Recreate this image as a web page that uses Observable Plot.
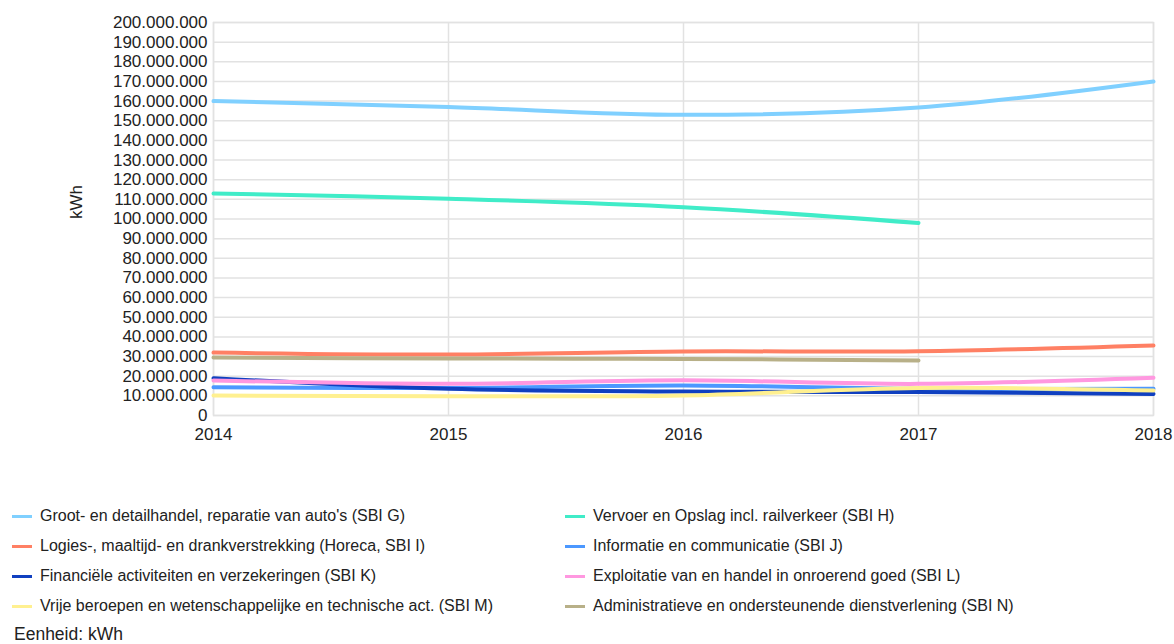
<!DOCTYPE html>
<html>
<head>
<meta charset="utf-8">
<script src="https://cdn.jsdelivr.net/npm/d3@7"></script>
<script src="https://cdn.jsdelivr.net/npm/@observablehq/plot@0.6"></script>
<style>
  html, body { margin: 0; padding: 0; background: #fff; }
  body { width: 1174px; height: 644px; position: relative; font-family: "Liberation Sans", Arial, sans-serif; color: #222; overflow: hidden; }
  #chart { position: absolute; left: 0; top: 0; }
  #legend { position: absolute; left: 12px; top: 506px; display: grid; grid-template-columns: 553px 560px; row-gap: 10px; font-size: 16px; }
  .item { display: flex; align-items: center; height: 20px; white-space: nowrap; }
  .sw { width: 20px; height: 3px; margin-right: 8px; flex: none; }
  #unit { position: absolute; left: 14px; top: 624px; font-size: 17.5px; }
</style>
</head>
<body>
<div id="chart"></div>
<div id="legend"></div>
<div id="unit">Eenheid: kWh</div>
<script>
const years = [2014, 2015, 2016, 2017, 2018];
const seriesNames = [
  "Groot- en detailhandel, reparatie van auto's (SBI G)",
  "Vervoer en Opslag incl. railverkeer (SBI H)",
  "Logies-, maaltijd- en drankverstrekking (Horeca, SBI I)",
  "Informatie en communicatie (SBI J)",
  "Financiële activiteiten en verzekeringen (SBI K)",
  "Exploitatie van en handel in onroerend goed (SBI L)",
  "Vrije beroepen en wetenschappelijke en technische act. (SBI M)",
  "Administratieve en ondersteunende dienstverlening (SBI N)"
];
const colors = ["#80d0ff", "#40ecc8", "#ff8064", "#4c98ff", "#1040c0", "#ff98e0", "#fff090", "#b8b088"];
const valuesG = [160000000, 157000000, 153000000, 156700000, 170000000];
const valuesH = [113000000, 110300000, 106000000, 98000000, null];
const valuesI = [32000000, 31000000, 32600000, 32700000, 35600000];
const valuesJ = [14400000, 14000000, 15300000, 13600000, 13600000];
const valuesK = [19000000, 13600000, 12200000, 11900000, 11000000];
const valuesL = [17800000, 16100000, 17900000, 16100000, 19200000];
const valuesM = [10200000, 9800000, 10200000, 14000000, 12700000];
const valuesN = [29500000, 29000000, 28800000, 28000000, null];
const allValues = [valuesG, valuesH, valuesI, valuesJ, valuesK, valuesL, valuesM, valuesN];
const yTicks = d3.range(0, 200000001, 10000000);

const data = [];
allValues.forEach((vals, i) => {
  vals.forEach((v, j) => {
    if (v != null) data.push({ series: seriesNames[i], year: years[j], value: v });
  });
});

const nl = d3.formatLocale({ decimal: ",", thousands: ".", grouping: [3], currency: ["", ""] });
const fmt = nl.format(",");

const chart = Plot.plot({
  width: 1174,
  height: 450,
  marginLeft: 213,
  marginRight: 21,
  marginTop: 22,
  marginBottom: 35,
  style: { fontFamily: "Liberation Sans, Arial, sans-serif", fontSize: "17px", color: "#222", background: "#fff" },
  x: { domain: [2014, 2018], ticks: years, tickFormat: d => String(d), tickSize: 0, tickPadding: 12, label: null },
  y: { domain: [0, 200000000], ticks: yTicks, tickFormat: fmt, tickSize: 0, tickPadding: 6, label: null },
  color: { domain: seriesNames, range: colors },
  marks: [
    Plot.gridY(yTicks, { stroke: "#e2e2e2", strokeOpacity: 1, strokeWidth: 1.5 }),
    Plot.gridX(years, { stroke: "#e2e2e2", strokeOpacity: 1, strokeWidth: 1.5 }),
    Plot.frame({ stroke: "#e2e2e2", strokeWidth: 1.5 }),
    Plot.line(data, { x: "year", y: "value", z: "series", stroke: "series", strokeWidth: 4, curve: "catmull-rom" }),
    Plot.text(["kWh"], { frameAnchor: "left", rotate: -90, dx: -137, dy: 0, fontSize: 17, fill: "#222" })
  ]
});
document.getElementById("chart").appendChild(chart);

const legend = document.getElementById("legend");
seriesNames.forEach((name, i) => {
  const it = document.createElement("div");
  it.className = "item";
  const sw = document.createElement("span");
  sw.className = "sw";
  sw.style.background = colors[i];
  it.appendChild(sw);
  const t = document.createElement("span");
  t.textContent = name;
  it.appendChild(t);
  legend.appendChild(it);
});
</script>
</body>
</html>
